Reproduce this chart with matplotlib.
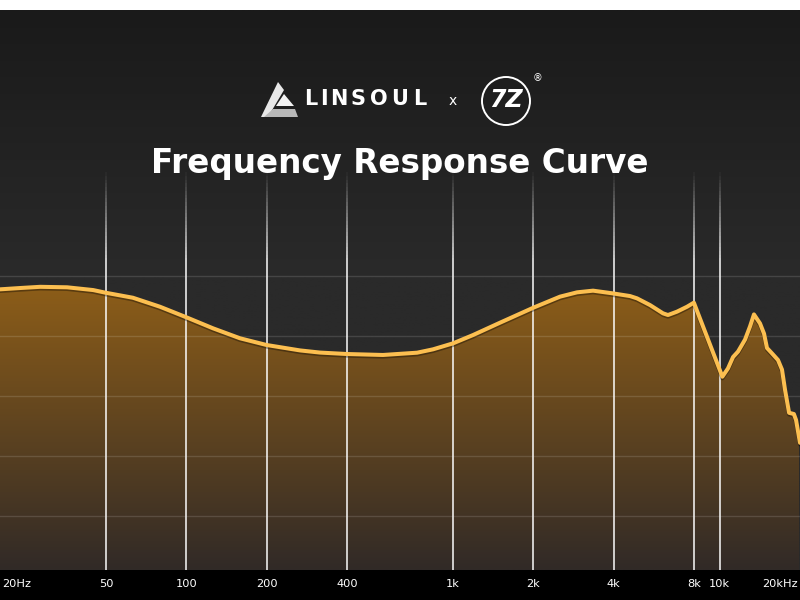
import numpy as np
import matplotlib
matplotlib.use("Agg")
import matplotlib.pyplot as plt
from matplotlib.collections import LineCollection
from matplotlib.patches import Polygon, Circle, Rectangle
from matplotlib import patheffects as pe

# frequency response (Hz, dB)
freq = [20, 23.8, 28.3, 35.7, 44.7, 50, 63, 79.6, 100, 125.9, 158.9, 200,
        266.7, 317, 400, 546, 733, 841, 1000, 1188, 1500, 2000, 2518, 2917, 3349,
        3955, 4609, 4895, 5477, 6128, 6397, 6915, 7541, 8000, 10230, 10740, 11220,
        11710, 12440, 12990, 13440, 14160, 14660, 15040, 15710, 16540, 17120, 17580,
        18200, 18970, 19330, 20000]
spl = [98.89, 99.0, 99.1, 99.06, 98.83, 98.6, 98.19, 97.44, 96.56, 95.64, 94.81, 94.25,
       93.8, 93.62, 93.5, 93.42, 93.61, 93.89, 94.39, 95.08, 96.11, 97.36, 98.28, 98.64,
       98.78, 98.56, 98.33, 98.14, 97.58, 96.89, 96.75, 97.03, 97.44, 97.78, 91.61, 92.3,
       93.25, 93.7, 94.7, 95.8, 96.8, 96.05, 95.2, 94.0, 93.55, 93.0, 92.2, 90.5, 88.6,
       88.5, 88.0, 86.1]

grid_freqs = [50, 100, 200, 400, 1000, 2000, 4000, 8000, 10000]
tick_freqs = [20, 50, 100, 200, 400, 1000, 2000, 4000, 8000, 10000, 20000]
tick_labels = ["20Hz", "50", "100", "200", "400", "1k", "2k", "4k", "8k", "10k", "20kHz"]
hgrid = [100, 95, 90, 85, 80]

W, H = 800, 600


def fx(px):
    return px / W


def fy(py):
    return 1 - py / H


fig = plt.figure(figsize=(8, 6), dpi=100)
fig.patch.set_facecolor("white")

# dark background with a soft vertical gradient
bg = fig.add_axes([0, 0, 1, 1 - 10 / H])
bg.set_axis_off()
g = np.linspace(0, 1, 300)[:, None]
top = np.array([0x1a, 0x1a, 0x1a]) / 255
mid = np.array([0x2a, 0x2a, 0x2a]) / 255
t = np.clip(g / 0.45, 0, 1)
img = (top + (mid - top) * t)[:, None, :].repeat(2, axis=1)
bg.imshow(img, aspect="auto", extent=[0, 1, 0, 1], origin="upper")
bg.set_xlim(0, 1)
bg.set_ylim(0, 1)

# main plotting area
ax = fig.add_axes([0, 30 / H, 1, 560 / H])
ax.set_facecolor("none")
ax.set_xscale("log")
ylo, yhi = 75.5, 122.17
ax.set_axis_off()

# gradient fill under the curve
poly = ax.fill_between(freq, spl, ylo, color="none", lw=0)
grad = np.linspace(0, 1, 256)[:, None]
c_top = np.array([0x8e, 0x5e, 0x18]) / 255
c_bot = np.array([0x31, 0x2a, 0x27]) / 255
gimg = (c_top + (c_bot - c_top) * grad)[:, None, :].repeat(2, axis=1)
im = ax.imshow(gimg, aspect="auto", extent=[20, 20000, ylo, 99.5], origin="upper",
               zorder=1)
im.set_clip_path(poly.get_paths()[0], transform=ax.transData)
ax.set_xlim(20, 20000)
ax.set_ylim(ylo, yhi)

# horizontal grid
for yv in hgrid:
    ax.axhline(yv, color="white", alpha=0.13, lw=1.0, zorder=2)

# vertical grid, fading in at the top
y_top = 100 + (276 - 172) / 12
y_full = 100 + (276 - 262) / 12
ys = np.concatenate([np.linspace(y_top, y_full, 25), [ylo]])
alphas = np.concatenate([np.linspace(0.03, 0.9, 24), [0.9]])
for f in grid_freqs:
    segs = [[(f, ys[i]), (f, ys[i + 1])] for i in range(len(ys) - 1)]
    cols = [(1, 1, 1, a) for a in alphas]
    ax.add_collection(LineCollection(segs, colors=cols, lw=1.2, zorder=3,
                                     capstyle="butt"))

# response curve
ax.plot(freq, spl, color="#fcbf50", lw=2.9, solid_joinstyle="round",
        solid_capstyle="round", zorder=5,
        path_effects=[pe.SimpleLineShadow(offset=(0, -1.2), shadow_color="black", alpha=0.35),
                      pe.Normal()])

# bottom bar with labels
fig.patches.append(Rectangle((0, 0), 1, 30 / H, transform=fig.transFigure,
                             facecolor="black", edgecolor="none", zorder=10))
for f, lab in zip(tick_freqs, tick_labels):
    x = np.log10(f / 20) / 3
    ha = "center"
    if lab == "20Hz":
        x, ha = fx(2), "left"
    elif lab == "20kHz":
        x, ha = fx(798), "right"
    fig.text(x, fy(584), lab, color="white", fontsize=8.2, ha=ha, va="center",
             family="DejaVu Sans", zorder=11)

# header: LINSOUL x 7Hz
logo_parts = [
    ([(278, 82), (284, 90), (268, 117), (261, 117)], "#e8e8e8"),
    ([(284, 94), (294, 106), (276, 106)], "#f4f4f4"),
    ([(273, 109), (295, 109), (298, 117), (264, 117)], "#b8b8b8"),
]
for pts, col in logo_parts:
    fig.patches.append(Polygon([(fx(a), fy(b)) for a, b in pts], closed=True,
                               transform=fig.transFigure, facecolor=col,
                               edgecolor="none", zorder=10))
for ch, cx in zip("LINSOUL", [311, 324, 338.5, 358, 379, 400, 419.5]):
    fig.text(fx(cx), fy(99), ch, color="white", fontsize=15, fontweight="heavy",
             ha="center", va="center", family="DejaVu Sans")
fig.text(fx(453), fy(101), "x", color="white", fontsize=10, ha="center", va="center",
         family="DejaVu Sans")
fig.patches.append(Circle((506 / 100, (H - 101) / 100), 0.24,
                          transform=fig.dpi_scale_trans,
                          facecolor="none", edgecolor="white", lw=1.4))
fig.text(fx(506), fy(100), "7Z", color="white", fontsize=17, fontweight="bold",
         style="italic", ha="center", va="center", family="DejaVu Sans")
fig.text(fx(537), fy(78), "®", color="white", fontsize=7, ha="center", va="center",
         family="DejaVu Sans")

fig.text(0.5, fy(163), "Frequency Response Curve", color="white", fontsize=23.5,
         fontweight="bold", ha="center", va="center", family="DejaVu Sans")

fig.savefig("out.png", dpi=100)
